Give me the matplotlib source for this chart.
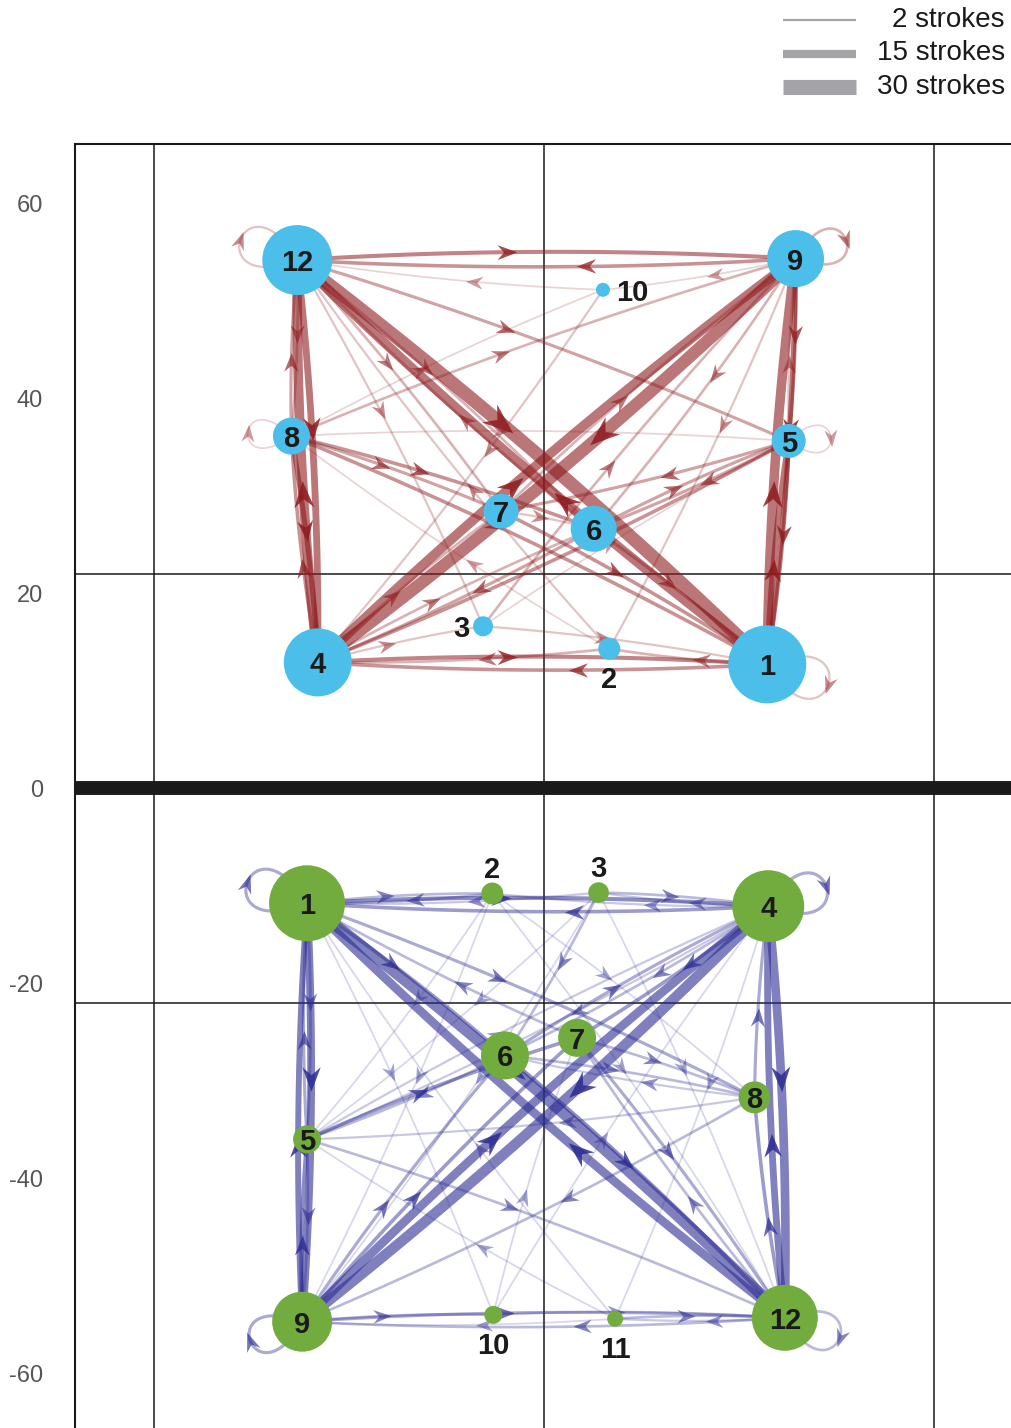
import numpy as np
import matplotlib.pyplot as plt
from matplotlib.path import Path
from matplotlib.markers import MarkerStyle
from matplotlib.transforms import Affine2D
from matplotlib.lines import Line2D

plt.rcParams['font.family'] = ['Liberation Sans', 'DejaVu Sans']

# ---- upper network (blue nodes, red strokes) ----
top_ids = [1, 2, 3, 4, 5, 6, 7, 8, 9, 10, 12]
top_x = [22.9, 6.7, -6.25, -23.2, 25.1, 5.1, -4.4, -25.9, 25.8, 6.05, -25.3]
top_y = [12.7, 14.3, 16.6, 12.9, 35.6, 26.6, 28.4, 36.1, 54.3, 51.1, 54.15]
top_strength = [39, 11, 10, 34, 17, 23, 17.5, 18.5, 28.5, 7, 35]

top_edges = [
    (4, 12, 18), (12, 4, 12), (1, 9, 18), (9, 1, 8), (12, 1, 26), (1, 12, 18),
    (9, 4, 24), (4, 9, 18), (12, 9, 6), (9, 12, 5), (4, 1, 6), (1, 4, 5),
    (8, 4, 8), (4, 8, 5), (12, 8, 3), (8, 12, 4), (8, 1, 5), (8, 9, 3),
    (8, 6, 5), (8, 7, 4), (8, 5, 1), (2, 8, 1),
    (5, 1, 6), (1, 5, 10), (9, 5, 5), (5, 9, 2), (5, 4, 5), (12, 5, 4),
    (5, 7, 4), (5, 6, 4), (6, 5, 4),
    (6, 4, 4), (4, 6, 3), (6, 12, 3), (12, 6, 3), (6, 1, 4), (9, 6, 3),
    (7, 1, 5), (12, 7, 3), (7, 9, 3), (4, 7, 3), (7, 6, 2),
    (2, 4, 3), (1, 2, 3), (2, 12, 2), (9, 2, 2),
    (3, 9, 3), (12, 3, 2), (3, 1, 2), (4, 3, 2), (3, 5, 1),
    (10, 4, 2), (8, 10, 1), (9, 10, 1), (10, 12, 1),
    (9, 9, 3), (5, 5, 1), (8, 8, 1), (12, 12, 2), (1, 1, 2),
]
top_outside = {10: 'right', 3: 'left', 2: 'below'}

# ---- lower network (green nodes, blue strokes) ----
bot_ids = [1, 2, 3, 4, 5, 6, 7, 8, 9, 10, 11, 12]
bot_x = [-24.3, -5.3, 5.6, 23.0, -24.3, -4.0, 3.4, 21.6, -24.8, -5.2, 7.3, 24.7]
bot_y = [-11.8, -10.8, -10.7, -12.1, -36.0, -27.4, -25.6, -31.7, -54.7, -54.0, -54.4, -54.3]
bot_strength = [38, 11, 10.3, 36, 14, 24, 19, 16, 30, 9, 8, 33]

bot_edges = [
    (1, 9, 14), (9, 1, 10), (4, 12, 16), (12, 4, 12), (1, 12, 22), (12, 1, 16),
    (4, 9, 20), (9, 4, 16), (1, 4, 6), (4, 1, 5), (9, 12, 4), (12, 9, 3),
    (5, 1, 4), (1, 5, 3), (9, 5, 6), (5, 9, 3), (5, 7, 5), (6, 5, 3),
    (5, 12, 3), (5, 4, 2), (4, 5, 2),
    (1, 6, 5), (6, 4, 4), (6, 12, 6), (9, 6, 4), (6, 8, 3), (4, 6, 3),
    (4, 7, 5), (7, 12, 4), (9, 7, 5), (7, 1, 3), (7, 8, 3), (12, 7, 3),
    (8, 4, 4), (12, 8, 5), (8, 9, 3), (1, 8, 4), (8, 5, 2), (8, 6, 2),
    (2, 1, 3), (1, 2, 3), (2, 9, 1), (2, 12, 1), (2, 8, 1), (4, 2, 2), (2, 5, 1),
    (3, 4, 3), (4, 3, 2), (3, 1, 2), (3, 9, 1), (3, 12, 1), (3, 5, 1), (3, 6, 3),
    (9, 10, 3), (10, 12, 2), (1, 10, 1), (10, 4, 1), (10, 7, 1),
    (11, 12, 3), (12, 11, 2), (4, 11, 1), (11, 1, 1), (11, 5, 1), (11, 9, 1),
    (1, 1, 4), (4, 4, 4), (9, 9, 4), (12, 12, 3),
]
bot_outside = {2: 'above', 3: 'above', 10: 'below', 11: 'below'}

legend_strokes = [2, 15, 30]
y_ticks = [-60, -40, -20, 0, 20, 40, 60]

PX = 9.75          # pixels per data unit
PT = 0.72          # points per pixel at dpi 100
T_ARROW = 0.42     # where along an edge the arrowhead sits

CHEVRON = Path([(1, 0), (-1, 0.75), (-0.35, 0), (-1, -0.75), (1, 0)],
               [Path.MOVETO, Path.LINETO, Path.LINETO, Path.LINETO, Path.CLOSEPOLY])


def stroke_width(w):
    return (1.3 + 0.46 * w) * PT


def stroke_alpha(w):
    return min(0.6, 0.12 + 0.07 * w)


def rot(v, g):
    return np.array([v[0] * np.cos(g) - v[1] * np.sin(g),
                     v[0] * np.sin(g) + v[1] * np.cos(g)])


def arrowhead(ax, x, y, dx, dy, w, color):
    ang = np.degrees(np.arctan2(dy, dx))
    m = MarkerStyle(CHEVRON, transform=Affine2D().rotate_deg(ang))
    ax.plot(x, y, marker=m, ms=12 + 0.4 * w, color=color, mew=0,
            alpha=min(0.85, stroke_alpha(w) + 0.25), zorder=3, ls='none')


def draw_network(ax, ids, xs, ys, strength, edges, outside, node_col, edge_col):
    pos = {i: np.array([x, y]) for i, x, y in zip(ids, xs, ys)}
    rad = {i: r / PX for i, r in zip(ids, strength)}
    centre = np.mean([pos[i] for i in ids], axis=0)
    t = np.linspace(0, 1, 60)[:, None]

    for a, b, w in sorted(edges, key=lambda e: e[2]):
        lw, al = stroke_width(w), stroke_alpha(w)
        if a == b:
            # self loop pointing away from the centre of the network
            d = pos[a] - centre
            d = np.array([d[0], 0.4 * d[1]])
            d /= np.linalg.norm(d)
            L = (rad[a] + 2.6) / (0.75 * np.cos(np.radians(40)))
            p0 = pos[a]
            p1 = p0 + L * rot(d, np.radians(40))
            p2 = p0 + L * rot(d, np.radians(-40))
            pts = ((1 - t) ** 3) * p0 + 3 * ((1 - t) ** 2) * t * p1 + 3 * (1 - t) * t ** 2 * p2 + t ** 3 * p0
            ax.plot(pts[:, 0], pts[:, 1], color=edge_col, lw=lw, alpha=al,
                    solid_capstyle='butt', zorder=2)
            mid = 0.125 * p0 + 0.375 * p1 + 0.375 * p2 + 0.125 * p0
            tang = p2 - p1
            arrowhead(ax, mid[0], mid[1], tang[0], tang[1], w, edge_col)
            continue
        p0, p2 = pos[a], pos[b]
        v = p2 - p0
        perp = np.array([-v[1], v[0]])
        p1 = (p0 + p2) / 2 + 0.03 * perp
        pts = ((1 - t) ** 2) * p0 + 2 * (1 - t) * t * p1 + t ** 2 * p2
        ax.plot(pts[:, 0], pts[:, 1], color=edge_col, lw=lw, alpha=al,
                solid_capstyle='butt', zorder=2)
        s = T_ARROW
        at = (1 - s) ** 2 * p0 + 2 * (1 - s) * s * p1 + s ** 2 * p2
        tang = 2 * (1 - s) * (p1 - p0) + 2 * s * (p2 - p1)
        arrowhead(ax, at[0], at[1], tang[0], tang[1], w, edge_col)

    ax.scatter(xs, ys, s=[(2 * r * PT) ** 2 for r in strength], color=node_col,
               linewidths=0, zorder=5)
    for i, x, y, r in zip(ids, xs, ys, strength):
        side = outside.get(i)
        if side is None:
            ax.text(x, y, str(i), ha='center', va='center_baseline', fontsize=21,
                    fontweight='bold', color='#1a1a1a', zorder=6)
            continue
        off = {'right': ((r + 6) * PT, 0), 'left': (-(r + 4) * PT, 0),
               'below': (0, -28 * PT), 'above': (0, 27 * PT)}[side]
        ha = {'right': 'left', 'left': 'right'}.get(side, 'center')
        ax.annotate(str(i), (x, y), xytext=off, textcoords='offset points',
                    ha=ha, va='center_baseline', fontsize=21, fontweight='bold',
                    color='#1a1a1a', zorder=6)


fig = plt.figure(figsize=(10.11, 14.28), dpi=100)
ax = fig.add_axes([75 / 1011, 0, 936 / 1011, 1284 / 1428])
ax.set_xlim(-48.1, 47.9)
ax.set_ylim(-65.6, 66.05)

for gx in [-40, 0, 40]:
    ax.axvline(gx, color='#1a1a1a', lw=1.1, zorder=1)
for gy in [-22, 22]:
    ax.axhline(gy, color='#1a1a1a', lw=1.1, zorder=1)
ax.axhline(0, color='#1a1a1a', lw=10, zorder=1)

draw_network(ax, top_ids, top_x, top_y, top_strength, top_edges, top_outside,
             '#4bbfea', '#8e1b1e')
draw_network(ax, bot_ids, bot_x, bot_y, bot_strength, bot_edges, bot_outside,
             '#73ac3e', '#2b2b93')

ax.set_xticks([])
ax.set_yticks(y_ticks)
ax.set_yticklabels([str(v) for v in y_ticks])
ax.tick_params(axis='y', length=0, pad=23, labelsize=17, labelcolor='#555555')
for side in ['right', 'bottom']:
    ax.spines[side].set_visible(False)
for side in ['left', 'top']:
    ax.spines[side].set_linewidth(1.5)
    ax.spines[side].set_color('#1a1a1a')

# stroke-width legend
for k, w in enumerate(legend_strokes):
    yf = 1 - (20 + 33.5 * k) / 1428
    fig.add_artist(Line2D([783 / 1011, 856 / 1011], [yf, yf], lw=stroke_width(w),
                          color='#a3a3a8', solid_capstyle='butt'))
    fig.text(1005 / 1011, yf, f'{w} strokes', ha='right', va='center',
             fontsize=20, color='#1a1a1a')

fig.savefig('out.png', dpi=100)
